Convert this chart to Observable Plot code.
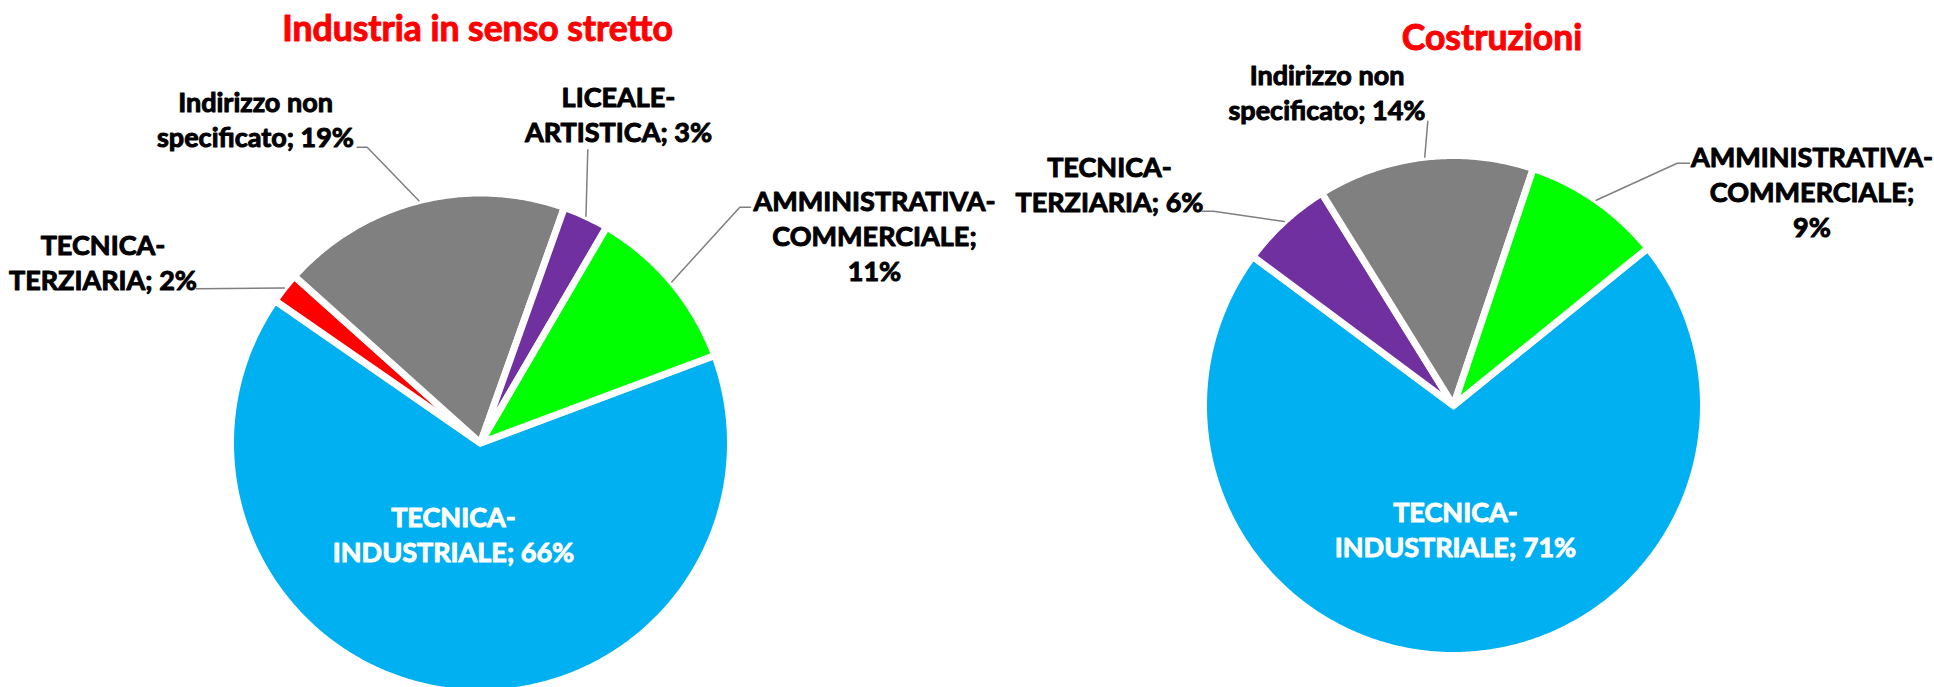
<!DOCTYPE html>
<html><head><meta charset="utf-8">
<script src="https://cdn.jsdelivr.net/npm/d3@7"></script>
<script src="https://cdn.jsdelivr.net/npm/@observablehq/plot@0.6"></script>
<style>html,body{margin:0;padding:0;background:#fff;overflow:hidden}</style>
</head><body><div id="chart"></div>
<script>
// ---- data ----
const titles = ["Industria in senso stretto", "Costruzioni"];
const categoriesIndustria = ["TECNICA-INDUSTRIALE", "TECNICA-TERZIARIA", "Indirizzo non specificato", "LICEALE-ARTISTICA", "AMMINISTRATIVA-COMMERCIALE"];
const valuesIndustria = [66, 2, 19, 3, 11];
const categoriesCostruzioni = ["TECNICA-INDUSTRIALE", "TECNICA-TERZIARIA", "Indirizzo non specificato", "AMMINISTRATIVA-COMMERCIALE"];
const valuesCostruzioni = [71, 6, 14, 9];

// ---- styles ----
const colorsIndustria = ["#00B0F0", "#FF0000", "#808080", "#7030A0", "#00FF00"];
const colorsCostruzioni = ["#00B0F0", "#7030A0", "#808080", "#00FF00"];
const FONT = "Lato, 'Open Sans', sans-serif";
const LABEL_SIZE = 27, LINE_H = 35, TITLE_SIZE = 35.5;

// ---- layout (pixel space) ----
const layout = [
  {cx: 480, cy: 442.5, r: 250, start: 69.5, title: {x: 477, y: 40.7},
   labels: [
     {x: 453, y: 561, inside: true},
     {x: 102.5, y: 289.3, lead: [[196, 288.3]]},
     {x: 255, y: 146.7, lead: [[356.7, 146.7], [366.7, 146.7]]},
     {x: 618, y: 141, lead: [[587.3, 149.3]]},
     {x: 874, y: 280, lead: [[750, 206.7], [739.3, 206.7]], pctBreak: true}
   ]},
  {cx: 1453, cy: 405, r: 250, start: 51.0, title: {x: 1491.5, y: 49.3},
   labels: [
     {x: 1455, y: 556.7, inside: true},
     {x: 1109, y: 211.7, lead: [[1201.7, 210.7], [1213, 210.7]]},
     {x: 1326.5, y: 119, lead: [[1427.3, 120.7]]},
     {x: 1811.5, y: 236, lead: [[1689, 162.7], [1676.7, 162.7]], pctBreak: true}
   ]}
];

const pieData = [
  {cats: categoriesIndustria, vals: valuesIndustria, colors: colorsIndustria},
  {cats: categoriesCostruzioni, vals: valuesCostruzioni, colors: colorsCostruzioni}
];

function wrap(cat) {
  return cat.replace(/-/g, "-\n").replace("non ", "non\n");
}

const slicePts = [], leaderPts = [], labelRows = [], titleRows = [];
pieData.forEach((p, pi) => {
  const L = layout[pi];
  titleRows.push({x: L.title.x, y: L.title.y, text: titles[pi]});
  const s = L.start * Math.PI / 180;
  const arcs = d3.pie().sort(null).value(d => d).startAngle(s).endAngle(s + 2 * Math.PI)(p.vals);
  arcs.forEach((a, i) => {
    const id = pi + "-" + i;
    const color = p.colors[i];
    slicePts.push({id, color, x: L.cx, y: L.cy});
    const n = Math.max(2, Math.ceil((a.endAngle - a.startAngle) / (Math.PI / 360)));
    for (let k = 0; k <= n; k++) {
      const t = a.startAngle + (a.endAngle - a.startAngle) * k / n;
      slicePts.push({id, color, x: L.cx + L.r * Math.sin(t), y: L.cy - L.r * Math.cos(t)});
    }
    const lab = L.labels[i];
    const text = wrap(p.cats[i]) + ";" + (lab.pctBreak ? "\n" : " ") + p.vals[i] + "%";
    labelRows.push({x: lab.x, y: lab.y, text, fill: lab.inside ? "#FFFFFF" : "#000000"});
    if (lab.lead) {
      const mid = (a.startAngle + a.endAngle) / 2;
      lab.lead.forEach(([x, y]) => leaderPts.push({id, x, y}));
      leaderPts.push({id, x: L.cx + L.r * Math.sin(mid), y: L.cy - L.r * Math.cos(mid)});
    }
  });
});

const chart = Plot.plot({
  width: 1934, height: 687, margin: 0,
  x: {domain: [0, 1934], range: [0, 1934], axis: null},
  y: {domain: [0, 687], range: [0, 687], axis: null},
  color: {type: "identity"},
  style: {fontFamily: FONT, background: "#fff"},
  marks: [
    Plot.line(slicePts, {x: "x", y: "y", z: "id", fill: d => d.color, stroke: "white", strokeWidth: 7,
      curve: "linear-closed", strokeLinejoin: "miter", strokeMiterlimit: 1.5}),
    Plot.line(leaderPts, {x: "x", y: "y", z: "id", stroke: "#7f7f7f", strokeWidth: 1.5}),
    Plot.text(labelRows, {x: "x", y: "y", text: "text", fill: d => d.fill, stroke: d => d.fill, strokeWidth: 1,
      paintOrder: "stroke", fontSize: LABEL_SIZE, fontWeight: "bold",
      fontFamily: FONT, lineAnchor: "bottom", lineHeight: LINE_H / LABEL_SIZE, textAnchor: "middle"}),
    Plot.text(titleRows, {x: "x", y: "y", text: "text", fill: "#FF0000", stroke: "#FF0000", strokeWidth: 1,
      paintOrder: "stroke", fontSize: TITLE_SIZE, fontWeight: "bold",
      fontFamily: FONT, lineAnchor: "bottom", textAnchor: "middle"})
  ]
});
document.getElementById("chart").appendChild(chart);
</script>
</body></html>
